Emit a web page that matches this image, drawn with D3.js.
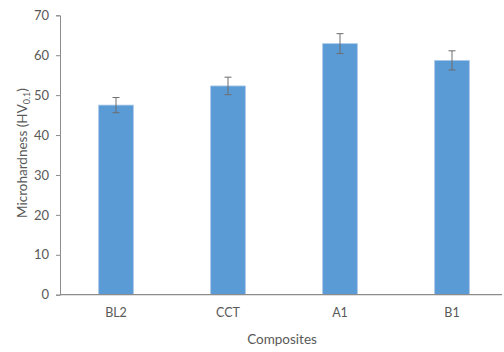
<!DOCTYPE html>
<html><head><meta charset="utf-8">
<script src="https://cdn.jsdelivr.net/npm/d3@7"></script>
<style>body{margin:0;background:#fff}svg{display:block}text{font-family:Lato,"Open Sans",sans-serif;fill:#595959}</style>
</head><body>
<script>
const categories = ["BL2","CCT","A1","B1"];
const values = [47.5, 52.3, 62.9, 58.7];
const errors = [1.9, 2.2, 2.5, 2.4];
const yTicks = [0,10,20,30,40,50,60,70];

const W=504,H=352;
const svg=d3.select("body").append("svg").attr("width",W).attr("height",H);
const x=d3.scaleBand().domain(categories).range([60,508]).paddingInner(0.69).paddingOuter(0.345);
const y=d3.scaleLinear().domain([0,70]).range([294.7,15.3]);

// y axis
const ya=svg.append("g").attr("transform","translate(60,0)")
 .call(d3.axisLeft(y).tickValues(yTicks).tickSize(4).tickPadding(7));
ya.select(".domain").attr("stroke","#8c8c8c");
ya.selectAll(".tick line").attr("stroke","#8c8c8c");
ya.selectAll(".tick text").style("font-size","13px").attr("fill","#666");

// bars
svg.selectAll("rect.bar").data(categories).join("rect").attr("class","bar")
 .attr("x",d=>x(d)).attr("width",x.bandwidth())
 .attr("y",(d,i)=>y(values[i])).attr("height",(d,i)=>y(0)-y(values[i]))
 .attr("fill","#5b9bd5").attr("stroke","#a9c9ea").attr("stroke-width",0.8);

// x axis
const xa=svg.append("g").attr("transform",`translate(0,${y(0)})`)
 .call(d3.axisBottom(x).tickSize(0).tickPadding(13));
xa.select(".domain").remove();
svg.append("line").attr("x1",60).attr("x2",502).attr("y1",y(0)).attr("y2",y(0)).attr("stroke","#8c8c8c").attr("stroke-width",1.2);
xa.selectAll(".tick text").style("font-size","12.5px").attr("fill","#666");

// error bars
const eg=svg.append("g").attr("stroke","#6d6d6d").attr("stroke-width",1);
categories.forEach((c,i)=>{
 const cx=x(c)+x.bandwidth()/2;
 const t=y(values[i]+errors[i]), b=y(values[i]-errors[i]);
 eg.append("line").attr("x1",cx).attr("x2",cx).attr("y1",t).attr("y2",b);
 eg.append("line").attr("x1",cx-3.5).attr("x2",cx+3.5).attr("y1",t).attr("y2",t);
 eg.append("line").attr("x1",cx-3.5).attr("x2",cx+3.5).attr("y1",b).attr("y2",b);
});

// titles
svg.append("text").attr("x",282).attr("y",344).attr("text-anchor","middle").style("font-size","13.5px").text("Composites");
const yl=svg.append("text").attr("transform","translate(27,153) rotate(-90)").attr("text-anchor","middle").style("font-size","13.5px");
yl.append("tspan").text("Microhardness (HV");
yl.append("tspan").attr("dy",3).style("font-size","9px").text("0.1");
yl.append("tspan").attr("dy",-3).text(")");
</script>
</body></html>
